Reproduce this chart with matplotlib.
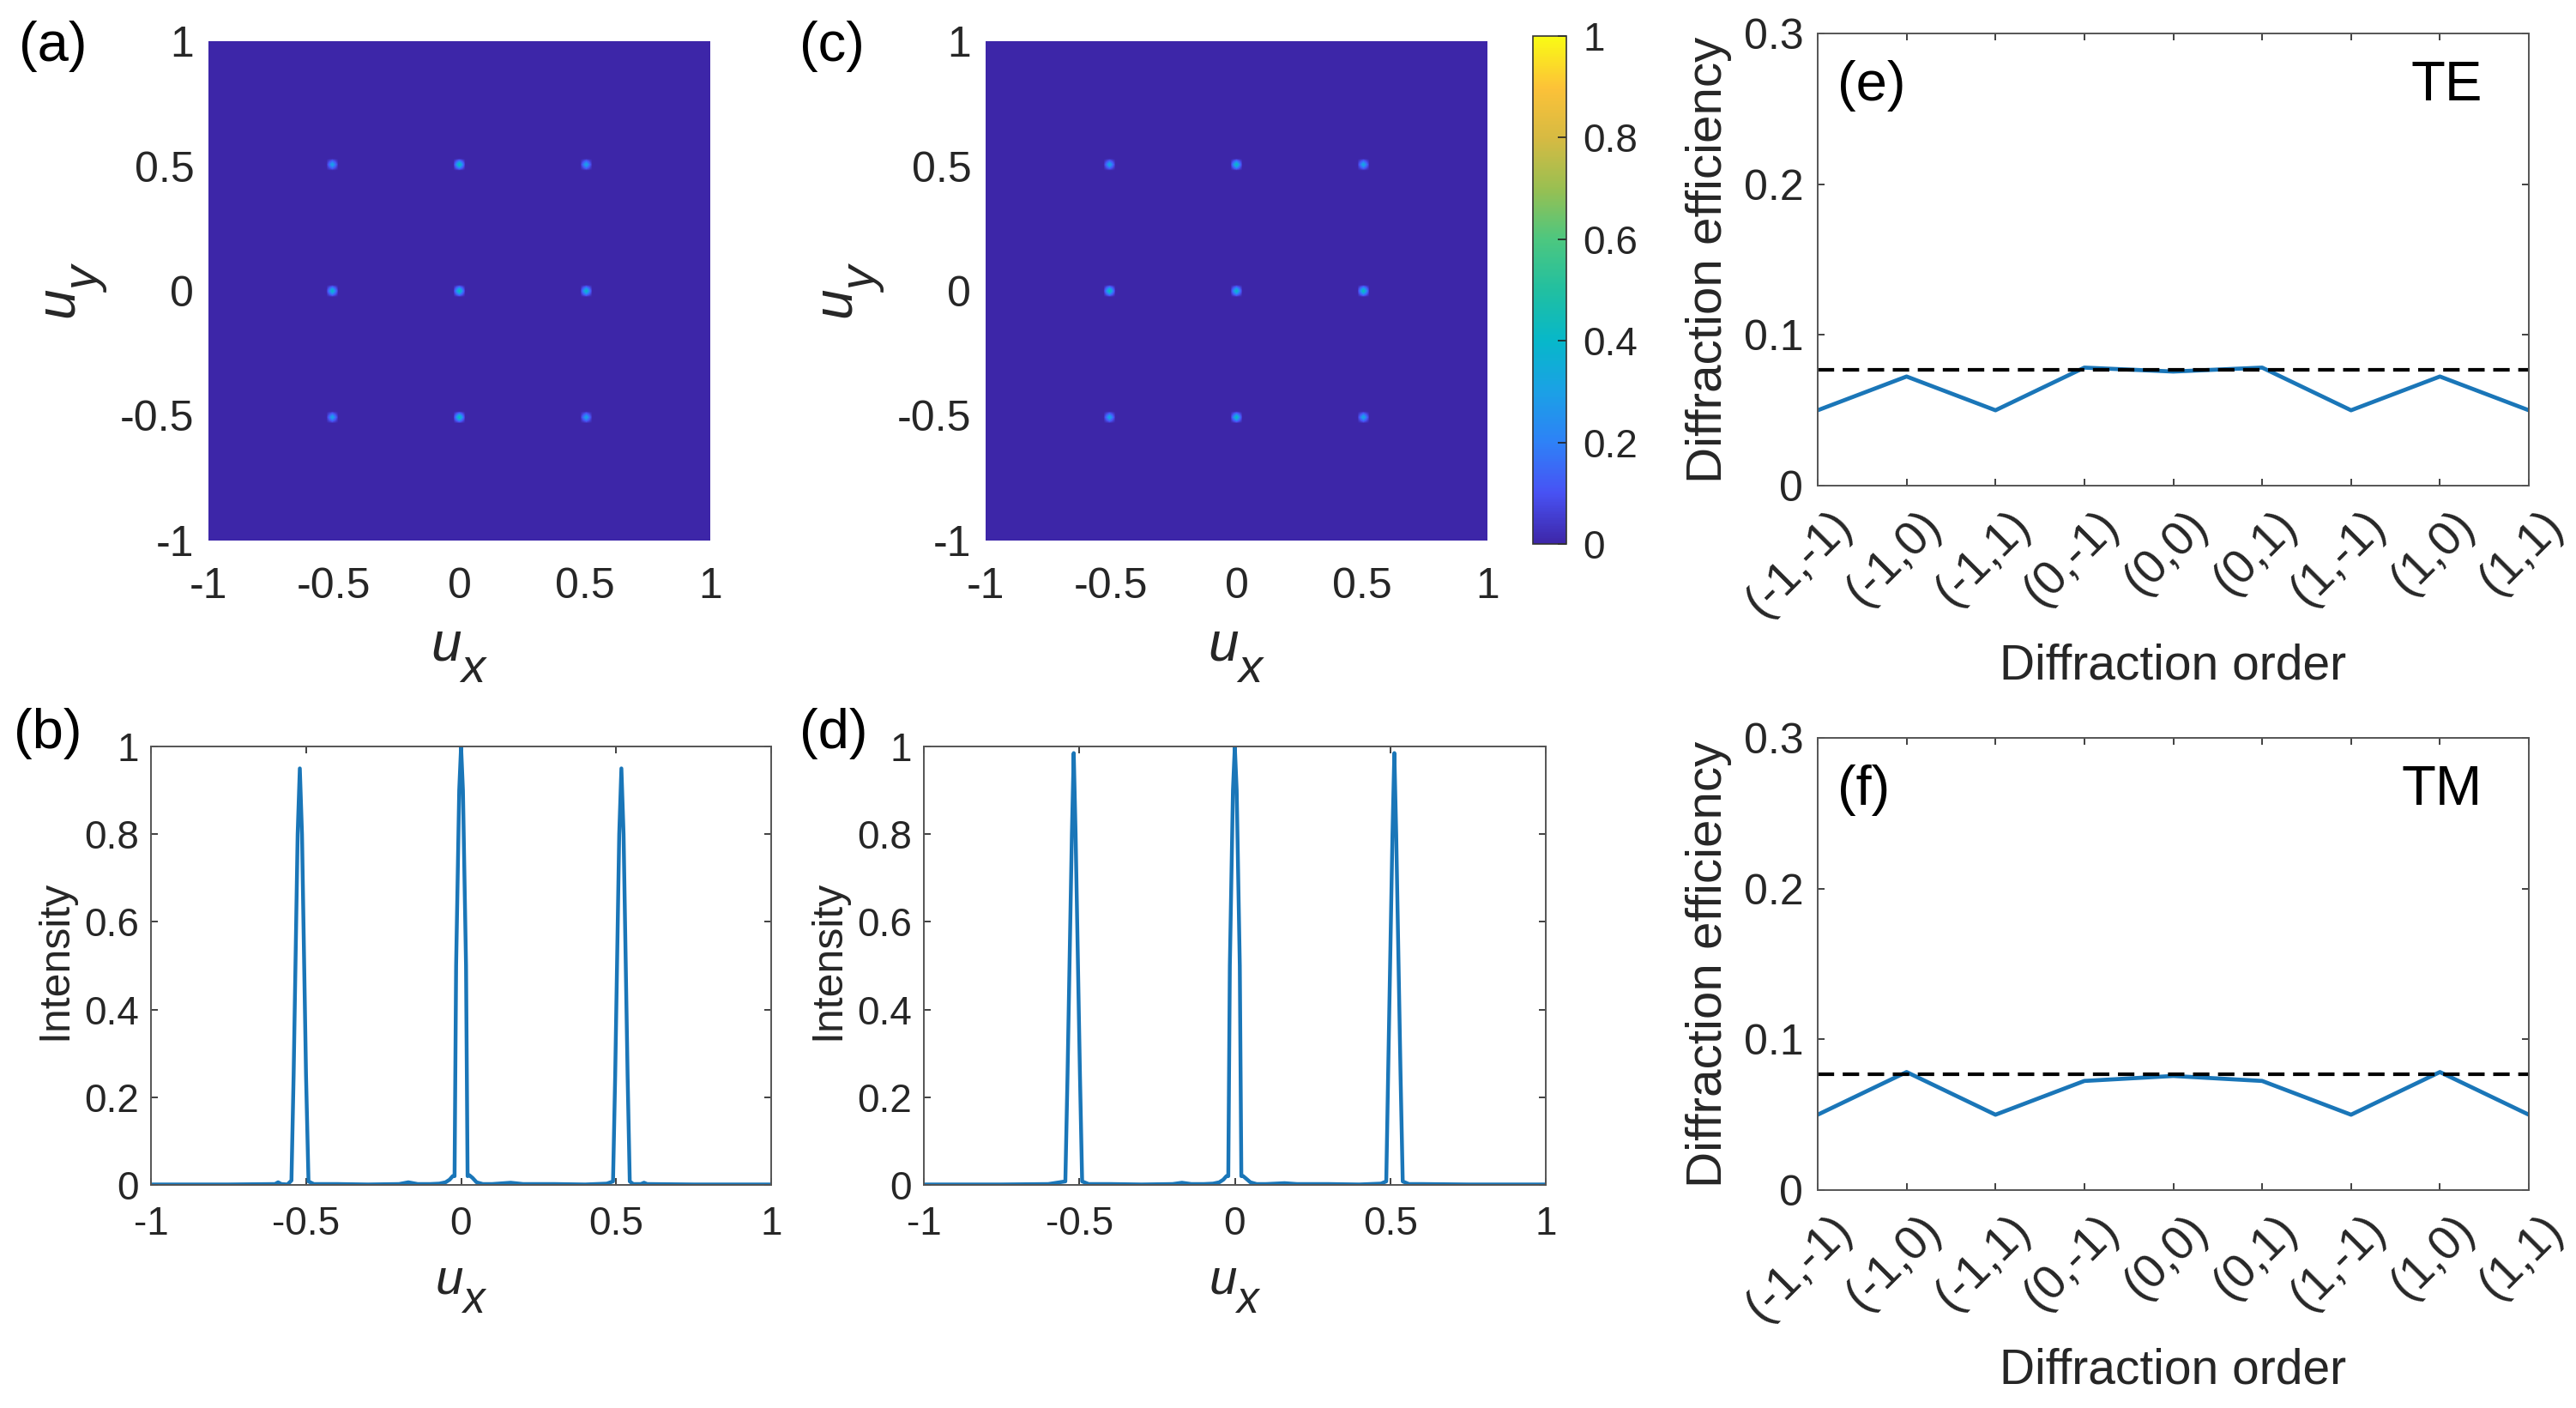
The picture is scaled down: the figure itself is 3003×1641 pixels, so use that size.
import numpy as np
import matplotlib
matplotlib.use("Agg")
import matplotlib.pyplot as plt
from matplotlib.colors import LinearSegmentedColormap
from matplotlib.transforms import ScaledTranslation
import matplotlib._mathtext as _mt
_mt.SHRINK_FACTOR = 0.88
_mt.FontConstantsBase.sub1 = 0.75
_mt.FontConstantsBase.subdrop = 0.9

plt.rcParams['font.family'] = ['Liberation Sans', 'DejaVu Sans']
plt.rcParams['mathtext.fontset'] = 'custom'
plt.rcParams['mathtext.it'] = 'Liberation Sans:italic'
plt.rcParams['mathtext.rm'] = 'Liberation Sans'

W, H = 3003, 1641
TXT = '#262626'
BLUE = '#1a76b8'

parula_stops = [(.2422,.1504,.6603),(.2810,.3228,.9579),(.1786,.5089,.9682),(.1048,.6300,.9000),
                (.0265,.7200,.7900),(.1300,.7500,.6300),(.3000,.7800,.5000),(.6000,.7500,.3200),
                (.8400,.7300,.2600),(.9900,.7600,.2200),(.9769,.9839,.0805)]
parula = LinearSegmentedColormap.from_list('parula', parula_stops)

spot_x = [-0.515, 0.0, 0.513]
spot_y = [0.515, 0.0, -0.515]
spots_a = [[0.34, 0.50, 0.34], [0.44, 0.50, 0.46], [0.34, 0.50, 0.34]]
spots_c = [[0.36, 0.46, 0.36], [0.50, 0.46, 0.50], [0.36, 0.46, 0.36]]
map_ticks = [-1, -0.5, 0, 0.5, 1]
map_ticklabels = ['-1', '-0.5', '0', '0.5', '1']
cbar_ticks = [0, 0.2, 0.4, 0.6, 0.8, 1]
cbar_labels = ['0', '0.2', '0.4', '0.6', '0.8', '1']

u_b = [-1,-.75,-.6,-.59,-.58,-.56,-.547,-.54,-.527,-.52,-.513,-.5,-.492,-.475,-.4,-.3,-.2,-.17,-.14,-.1,-.07,-.05,-.037,-.027,-.021,-.016,-.006,0,.006,.016,.021,.027,.037,.05,.07,.1,.16,.2,.3,.4,.47,.49,.497,.51,.517,.524,.537,.544,.555,.58,.59,.6,.75,1]
i_b = [.001,.001,.002,.006,.002,.001,.01,.25,.8,.95,.8,.25,.008,.002,.002,.001,.002,.006,.002,.002,.003,.006,.012,.02,.02,.5,.9,1,.9,.5,.02,.022,.016,.006,.002,.002,.005,.002,.002,.001,.003,.008,.25,.8,.95,.8,.25,.008,.002,.002,.005,.002,.001,.001]
u_d = [-1,-.75,-.6,-.545,-.538,-.524,-.518,-.512,-.498,-.491,-.47,-.4,-.3,-.2,-.17,-.14,-.1,-.07,-.05,-.037,-.027,-.021,-.016,-.006,0,.006,.016,.021,.027,.037,.05,.07,.1,.16,.2,.3,.4,.47,.487,.493,.507,.513,.519,.533,.54,.56,.6,.75,1]
i_d = [.001,.001,.002,.008,.25,.8,.985,.8,.25,.008,.002,.002,.001,.002,.005,.002,.002,.003,.006,.012,.02,.02,.5,.9,1,.9,.5,.02,.02,.014,.006,.002,.002,.004,.002,.002,.001,.003,.008,.25,.8,.985,.8,.25,.008,.002,.002,.001,.001]
line_ticks_y = [0, .2, .4, .6, .8, 1]
line_ticklabels_y = ['0', '0.2', '0.4', '0.6', '0.8', '1']

orders = ['(-1,-1)', '(-1,0)', '(-1,1)', '(0,-1)', '(0,0)', '(0,1)', '(1,-1)', '(1,0)', '(1,1)']
eff_te = [.050, .0724, .050, .0783, .0757, .0783, .050, .0724, .050]
eff_tm = [.050, .0783, .050, .0724, .0757, .0724, .050, .0783, .050]
eff_ideal = 0.0769
eff_ticks = [0, .1, .2, .3]
eff_ticklabels = ['0', '0.1', '0.2', '0.3']

fig = plt.figure(figsize=(W/100, H/100), dpi=100, facecolor='white')

def axes_px(l, t, r, b):
    return fig.add_axes([l/W, 1-b/H, (r-l)/W, (b-t)/H])

UX = r'$\mathit{u}_{\mathit{x}}$'
UY = r'$\mathit{u}_{\mathit{y}}$'

def heat(box, spots, tag, tag_xy):
    ax = axes_px(*box)
    n = 83
    grid = np.zeros((n, n))
    axis = np.linspace(-1, 1, n)
    for yv, row in zip(spot_y, spots):
        for xv, val in zip(spot_x, row):
            grid[np.argmin(abs(axis-yv)), np.argmin(abs(axis-xv))] = val
    im = ax.imshow(grid, extent=[-1, 1, -1, 1], origin='lower', cmap=parula, vmin=0, vmax=1,
                   aspect='auto', interpolation='bilinear')
    ax.set_xticks(map_ticks, map_ticklabels)
    ax.set_yticks(map_ticks, map_ticklabels)
    ax.tick_params(length=0, labelsize=36, labelcolor=TXT, pad=12)
    ax.tick_params(axis='x', pad=22)
    for s in ax.spines.values():
        s.set_visible(False)
    ax.set_xlabel(UX, fontsize=46, color=TXT, labelpad=20)
    ax.set_ylabel(UY, fontsize=46, color=TXT, labelpad=8)
    fig.text(tag_xy[0]/W, 1-tag_xy[1]/H, tag, fontsize=47, color='black', ha='left', va='center')
    return im

def peaks(box, u, i, tag, tag_xy):
    ax = axes_px(*box)
    ax.plot(u, i, color=BLUE, lw=3.2, solid_joinstyle='round')
    ax.set_xlim(-1, 1)
    ax.set_ylim(0, 1)
    ax.set_xticks(map_ticks, map_ticklabels)
    ax.set_yticks(line_ticks_y, line_ticklabels_y)
    ax.tick_params(direction='in', top=True, right=True, length=6, width=1.4, color='#404040',
                   labelsize=33, labelcolor=TXT, pad=10)
    ax.tick_params(axis='x', pad=17)
    for s in ax.spines.values():
        s.set_color('#555555')
        s.set_linewidth(1.4)
    ax.set_xlabel(UX, fontsize=42, color=TXT, labelpad=20)
    ax.set_ylabel('Intensity', fontsize=36, color=TXT, labelpad=8, y=0.512)
    fig.text(tag_xy[0]/W, 1-tag_xy[1]/H, tag, fontsize=47, color='black', ha='left', va='center')

def efficiency(box, eff, tag, mode):
    ax = axes_px(*box)
    ax.plot(range(1, 10), eff, color=BLUE, lw=3.4)
    ax.axhline(eff_ideal, color='black', lw=3.0, dashes=(4.6, 2.4))
    ax.set_xlim(1, 9)
    ax.set_ylim(0, .3)
    ax.set_xticks(range(1, 10), orders, rotation=45, ha='right', rotation_mode='anchor')
    ax.set_yticks(eff_ticks, eff_ticklabels)
    ax.tick_params(direction='in', top=True, right=True, length=6, width=1.4, color='#404040',
                   labelcolor=TXT, pad=14)
    ax.tick_params(axis='y', labelsize=36, pad=12)
    ax.tick_params(axis='x', labelsize=40)
    shift = ScaledTranslation(10/72, 0, fig.dpi_scale_trans)
    for lab in ax.get_xticklabels():
        lab.set_transform(lab.get_transform() + shift)
    for s in ax.spines.values():
        s.set_color('#555555')
        s.set_linewidth(1.4)
    ax.set_xlabel('Diffraction order', fontsize=41, color=TXT, labelpad=15)
    ax.set_ylabel('Diffraction efficiency', fontsize=42, color=TXT, labelpad=10)
    ax.text(0.028, 0.885, tag, transform=ax.transAxes, fontsize=47, color='black', ha='left', va='center')
    ax.text(0.935, 0.885, mode, transform=ax.transAxes, fontsize=47, color='black', ha='right', va='center')

im = heat((243, 48, 828, 630), spots_a, '(a)', (22, 54))
heat((1149, 48, 1734, 630), spots_c, '(c)', (932, 54))
peaks((176, 870, 899, 1381), u_b, i_b, '(b)', (16, 855))
peaks((1077, 870, 1802, 1381), u_d, i_d, '(d)', (932, 855))
efficiency((2119, 39, 2948, 566), eff_te, '(e)', 'TE')
efficiency((2119, 860, 2948, 1387), eff_tm, '(f)', 'TM')

cax = axes_px(1787, 42, 1826, 634)
cb = fig.colorbar(im, cax=cax)
cb.set_ticks(cbar_ticks, labels=cbar_labels)
cb.ax.tick_params(direction='in', length=7, width=1.2, color='#222222', labelsize=33,
                  labelcolor=TXT, pad=14)
cb.outline.set_edgecolor('#333333')
cb.outline.set_linewidth(1.2)

fig.savefig('out.png', dpi=100)
